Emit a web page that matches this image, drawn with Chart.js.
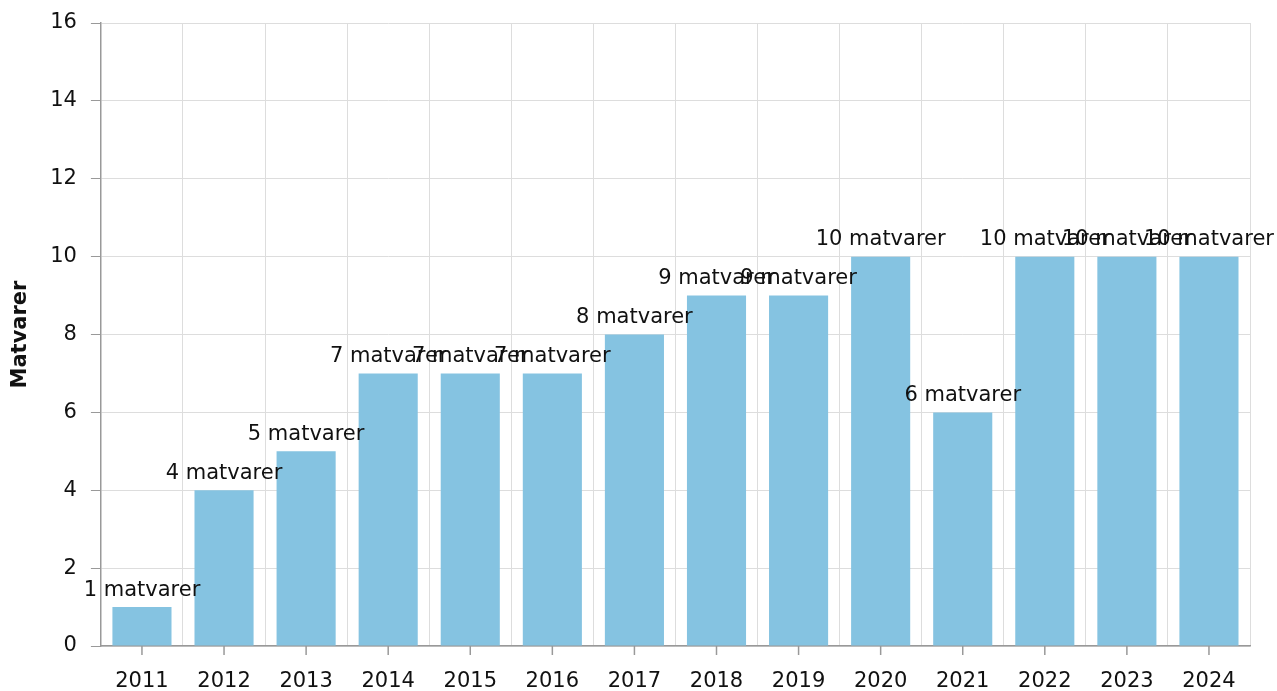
<!DOCTYPE html>
<html>
<head>
<meta charset="utf-8">
<script src="https://cdn.jsdelivr.net/npm/chart.js@4"></script>
<style>
  html, body { margin: 0; padding: 0; background: #fff; }
  #wrap { width: 1277px; height: 691px; }
</style>
</head>
<body>
<div id="wrap"><canvas id="chart"></canvas></div>
<script>
"use strict";

// data
let years = ["2011", "2012", "2013", "2014", "2015", "2016", "2017",
  "2018", "2019", "2020", "2021", "2022", "2023", "2024"];
let counts = [1, 4, 5, 7, 7, 7, 8, 9, 9, 10, 6, 10, 10, 10];
let unit = "matvarer";
let yTicks = [0, 2, 4, 6, 8, 10, 12, 14, 16];

Chart.defaults.font.family = "'DejaVu Sans', Verdana, sans-serif";
Chart.defaults.font.size = 21;
Chart.defaults.color = "#111";

// draw "N matvarer" above every bar, plus x tick marks at category centres
const barLabels = {
  id: "barLabels",
  afterDatasetsDraw(chart) {
    let ctx = chart.ctx;
    let meta = chart.getDatasetMeta(0);
    let x = chart.scales.x;
    ctx.save();
    ctx.strokeStyle = "#999";
    ctx.lineWidth = 1.5;
    years.forEach((y, i) => {
      let px = x.getPixelForValue(i);
      ctx.beginPath();
      ctx.moveTo(px, x.top);
      ctx.lineTo(px, x.top + 9);
      ctx.stroke();
    });
    ctx.font = "21px 'DejaVu Sans', Verdana, sans-serif";
    ctx.fillStyle = "#111";
    ctx.textAlign = "center";
    ctx.textBaseline = "middle";
    meta.data.forEach((bar, i) => {
      ctx.fillText(counts[i] + " " + unit, bar.x, bar.y - 17);
    });
    ctx.restore();
  }
};

let chart = new Chart(document.getElementById("chart"), {
  type: "bar",
  data: {
    labels: years,
    datasets: [{
      data: counts,
      backgroundColor: "#85c3e1",
      barPercentage: 0.72,
      categoryPercentage: 1
    }]
  },
  options: {
    responsive: true,
    maintainAspectRatio: false,
    animation: false,
    layout: { padding: { top: 23, right: 27, bottom: 0, left: 4 } },
    plugins: { legend: { display: false }, tooltip: { enabled: false } },
    scales: {
      x: {
        grid: { offset: true, color: "#dddddd", tickColor: "rgba(0,0,0,0)", tickLength: 9 },
        border: { color: "#999", width: 1.5 },
        ticks: { padding: 14, maxRotation: 0 },
        afterFit(scale) { scale.height = 45; }
      },
      y: {
        min: 0,
        max: 16,
        afterBuildTicks(axis) { axis.ticks = yTicks.map(v => ({ value: v })); },
        afterFit(scale) { scale.paddingTop = 0; scale.paddingBottom = 0; },
        grid: { color: "#dddddd", tickColor: "#999", tickLength: 10 },
        border: { color: "#999", width: 1.5 },
        ticks: { padding: 14 },
        title: { display: true, text: "Matvarer", font: { weight: "bold", size: 21 }, padding: { bottom: 3 } }
      }
    }
  },
  plugins: [barLabels]
});
</script>
</body>
</html>
